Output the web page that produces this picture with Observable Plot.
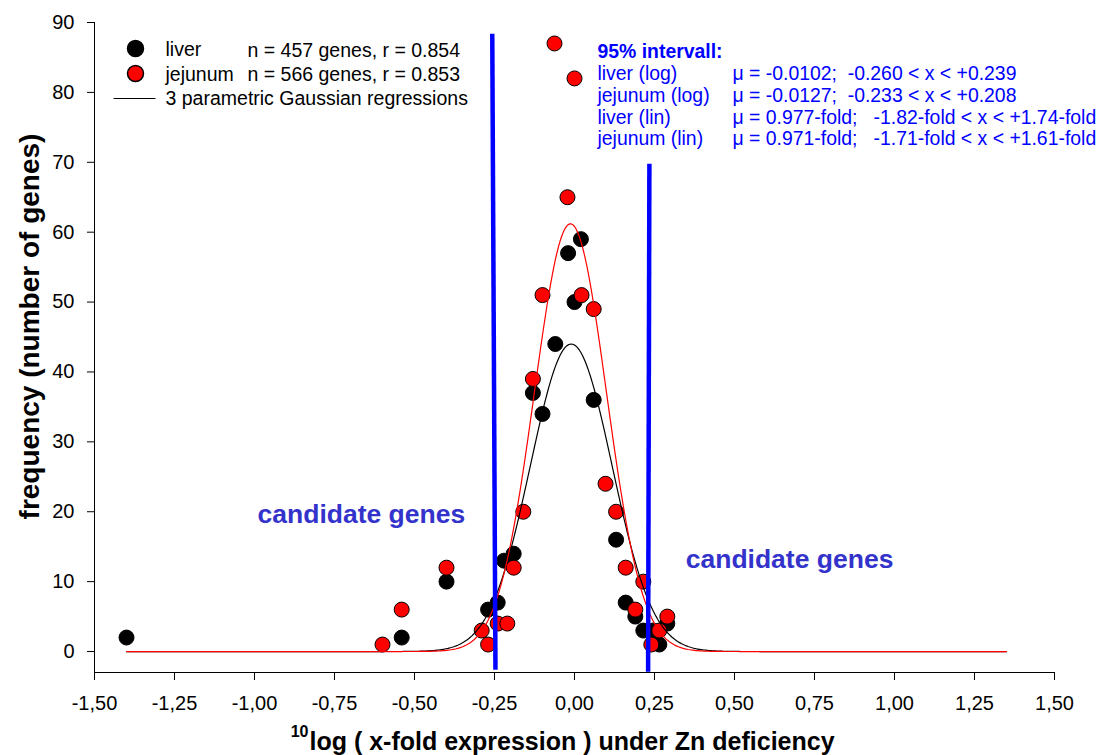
<!DOCTYPE html>
<html>
<head>
<meta charset="utf-8">
<script src="https://cdn.jsdelivr.net/npm/d3@7"></script>
<script src="https://cdn.jsdelivr.net/npm/@observablehq/plot@0.6"></script>
<style>
  body { margin: 0; background: #ffffff; }
  #chart svg text { white-space: pre; }
</style>
</head>
<body>
<div id="chart"></div>
<script>
// Frequency histograms of log10 fold change under Zn deficiency
const liverX = [-1.40, -0.54, -0.40, -0.27, -0.24, -0.22, -0.19, -0.13, -0.10, -0.06, -0.02, 0.00, 0.02, 0.06, 0.13, 0.16, 0.19, 0.215, 0.245, 0.265, 0.29];
const liverN = [2, 2, 10, 6, 7, 13, 14, 37, 34, 44, 57, 50, 59, 36, 16, 7, 5, 3, 3, 1, 4];

const jejunumX = [-0.60, -0.54, -0.40, -0.29, -0.27, -0.24, -0.21, -0.19, -0.16, -0.13, -0.10, -0.0625, -0.022, 0.00, 0.022, 0.06, 0.097, 0.13, 0.16, 0.19, 0.215, 0.24, 0.265, 0.29];
const jejunumN = [1, 6, 12, 3, 1, 4, 4, 12, 20, 39, 51, 87, 65, 82, 51, 49, 24, 20, 12, 6, 10, 1, 3, 5];

// Three-parameter Gaussian regressions: a * exp(-(x - x0)^2 / (2 b^2))
const fitNames = ["liver", "jejunum"];
const fitA = [44.0, 61.2];
const fitX0 = [-0.0102, -0.0127];
const fitB = [0.1273, 0.1125];
const fitColors = ["#000000", "#ff0000"];
const fitFrom = -1.40;
const fitTo = 1.35;

// Cut-off lines separating the candidate genes
const cutX1 = [-0.257, 0.234];
const cutY1 = [88.4, 69.8];
const cutX2 = [-0.247, 0.230];
const cutY2 = [-2.6, -2.9];

const candText = ["candidate genes", "candidate genes"];
const candX = [-0.666, 0.672];
const candY = [19.6, 13.2];

const xTicks = [-1.5, -1.25, -1.0, -0.75, -0.5, -0.25, 0, 0.25, 0.5, 0.75, 1.0, 1.25, 1.5];
const yTicks = [0, 10, 20, 30, 40, 50, 60, 70, 80, 90];

const legendNames = ["liver", "jejunum", "3 parametric Gaussian regressions"];
const legendStats = ["n = 457 genes, r = 0.854", "n = 566 genes, r = 0.853"];

const intervalTitle = "95% intervall:";
const intervalRows = ["liver (log)", "jejunum (log)", "liver (lin)", "jejunum (lin)"];
const intervalValues = [
  "μ = -0.0102;  -0.260 < x < +0.239",
  "μ = -0.0127;  -0.233 < x < +0.208",
  "μ = 0.977-fold;   -1.82-fold < x < +1.74-fold",
  "μ = 0.971-fold;   -1.71-fold < x < +1.61-fold"
];

const xLabel = "log ( x-fold expression ) under Zn deficiency";
const xLabelSup = "10";
const yLabel = "frequency (number of genes)";

// Tables built from the arrays above
const liver = liverX.map((x, i) => ({x, n: liverN[i]}));
const jejunum = jejunumX.map((x, i) => ({x, n: jejunumN[i]}));
const grid = d3.range(fitFrom, fitTo + 1e-9, 0.005);
const fits = fitNames.flatMap((name, k) =>
  grid.map(x => ({name, x, y: fitA[k] * Math.exp(-((x - fitX0[k]) ** 2) / (2 * fitB[k] ** 2))}))
);
const cuts = cutX1.map((x1, i) => ({x1, y1: cutY1[i], x2: cutX2[i], y2: cutY2[i]}));
const cands = candText.map((t, i) => ({t, x: candX[i], y: candY[i]}));

const font = "'Liberation Sans', Arial, Helvetica, sans-serif";
const blue = "#0000ff";

// A short horizontal stroke used as the regression-line legend symbol
const dash = {draw(ctx) { ctx.moveTo(-21, 0); ctx.lineTo(21, 0); }};

const chart = Plot.plot({
  width: 1104,
  height: 755,
  marginLeft: 94,
  marginRight: 50,
  marginTop: 22,
  marginBottom: 83,
  style: {fontFamily: font, fontSize: "20px", color: "#000", background: "#fff"},
  x: {
    domain: [-1.5, 1.5],
    ticks: xTicks,
    tickFormat: d => d.toFixed(2).replace(".", ","),
    tickSize: 8,
    tickPadding: 15,
    line: true,
    label: null
  },
  y: {
    domain: [-3, 90],
    ticks: yTicks,
    tickFormat: d => String(d),
    tickSize: 7,
    tickPadding: 13,
    line: true,
    label: null
  },
  marks: [
    Plot.dot(liver, {x: "x", y: "n", r: 7.5, fill: "#000000", stroke: "#000000", strokeWidth: 1}),
    Plot.dot(jejunum, {x: "x", y: "n", r: 7.5, fill: "#ff0000", stroke: "#000000", strokeWidth: 1}),
    Plot.line(fits, {x: "x", y: "y", z: "name", stroke: d => fitColors[fitNames.indexOf(d.name)], strokeWidth: 1.2}),
    Plot.link(cuts, {x1: "x1", y1: "y1", x2: "x2", y2: "y2", stroke: blue, strokeWidth: 4.5, strokeLinecap: "butt"}),
    Plot.text(cands, {x: "x", y: "y", text: "t", fill: "#3333cc", fontSize: 26.5, fontWeight: "bold"}),

    // legend
    Plot.dot([0], {frameAnchor: "top-left", dx: 41, dy: 26, r: 8, fill: "#000000", stroke: "#000000"}),
    Plot.dot([0], {frameAnchor: "top-left", dx: 41, dy: 51, r: 8, fill: "#ff0000", stroke: "#000000"}),
    Plot.dot([0], {frameAnchor: "top-left", dx: 40, dy: 76, symbol: dash, r: 8, fill: "none", stroke: "#000000", strokeWidth: 1}),
    Plot.text([legendNames.join("\n")], {frameAnchor: "top-left", dx: 71, dy: 50.5, textAnchor: "start", lineAnchor: "middle", lineHeight: 1.256, fontSize: 19.5, fill: "#000"}),
    Plot.text([legendStats.join("\n")], {frameAnchor: "top-left", dx: 153, dy: 38.5, textAnchor: "start", lineAnchor: "middle", lineHeight: 1.256, fontSize: 19.5, fill: "#000"}),

    // 95% interval summary
    Plot.text([intervalTitle], {frameAnchor: "top-left", dx: 503, dy: 29.7, textAnchor: "start", lineAnchor: "middle", fontSize: 19.4, fontWeight: "bold", fill: blue}),
    Plot.text([intervalRows.join("\n")], {frameAnchor: "top-left", dx: 503, dy: 83.5, textAnchor: "start", lineAnchor: "middle", lineHeight: 1.116, fontSize: 19.4, fill: blue}),
    Plot.text([intervalValues.join("\n")], {frameAnchor: "top-left", dx: 638, dy: 83.5, textAnchor: "start", lineAnchor: "middle", lineHeight: 1.116, fontSize: 19.4, fill: blue}),

    // axis titles
    Plot.text([xLabel], {frameAnchor: "bottom", dx: -265, dy: 69, textAnchor: "start", lineAnchor: "middle", fontSize: 25, fontWeight: "bold", fill: "#000"}),
    Plot.text([xLabelSup], {frameAnchor: "bottom", dx: -266, dy: 59, textAnchor: "end", lineAnchor: "middle", fontSize: 16, fontWeight: "bold", fill: "#000"}),
    Plot.text([yLabel], {frameAnchor: "left", dx: -64, dy: -21, rotate: -90, textAnchor: "middle", lineAnchor: "middle", fontSize: 28, fontWeight: "bold", fill: "#000"})
  ]
});

document.getElementById("chart").appendChild(chart);
</script>
</body>
</html>
